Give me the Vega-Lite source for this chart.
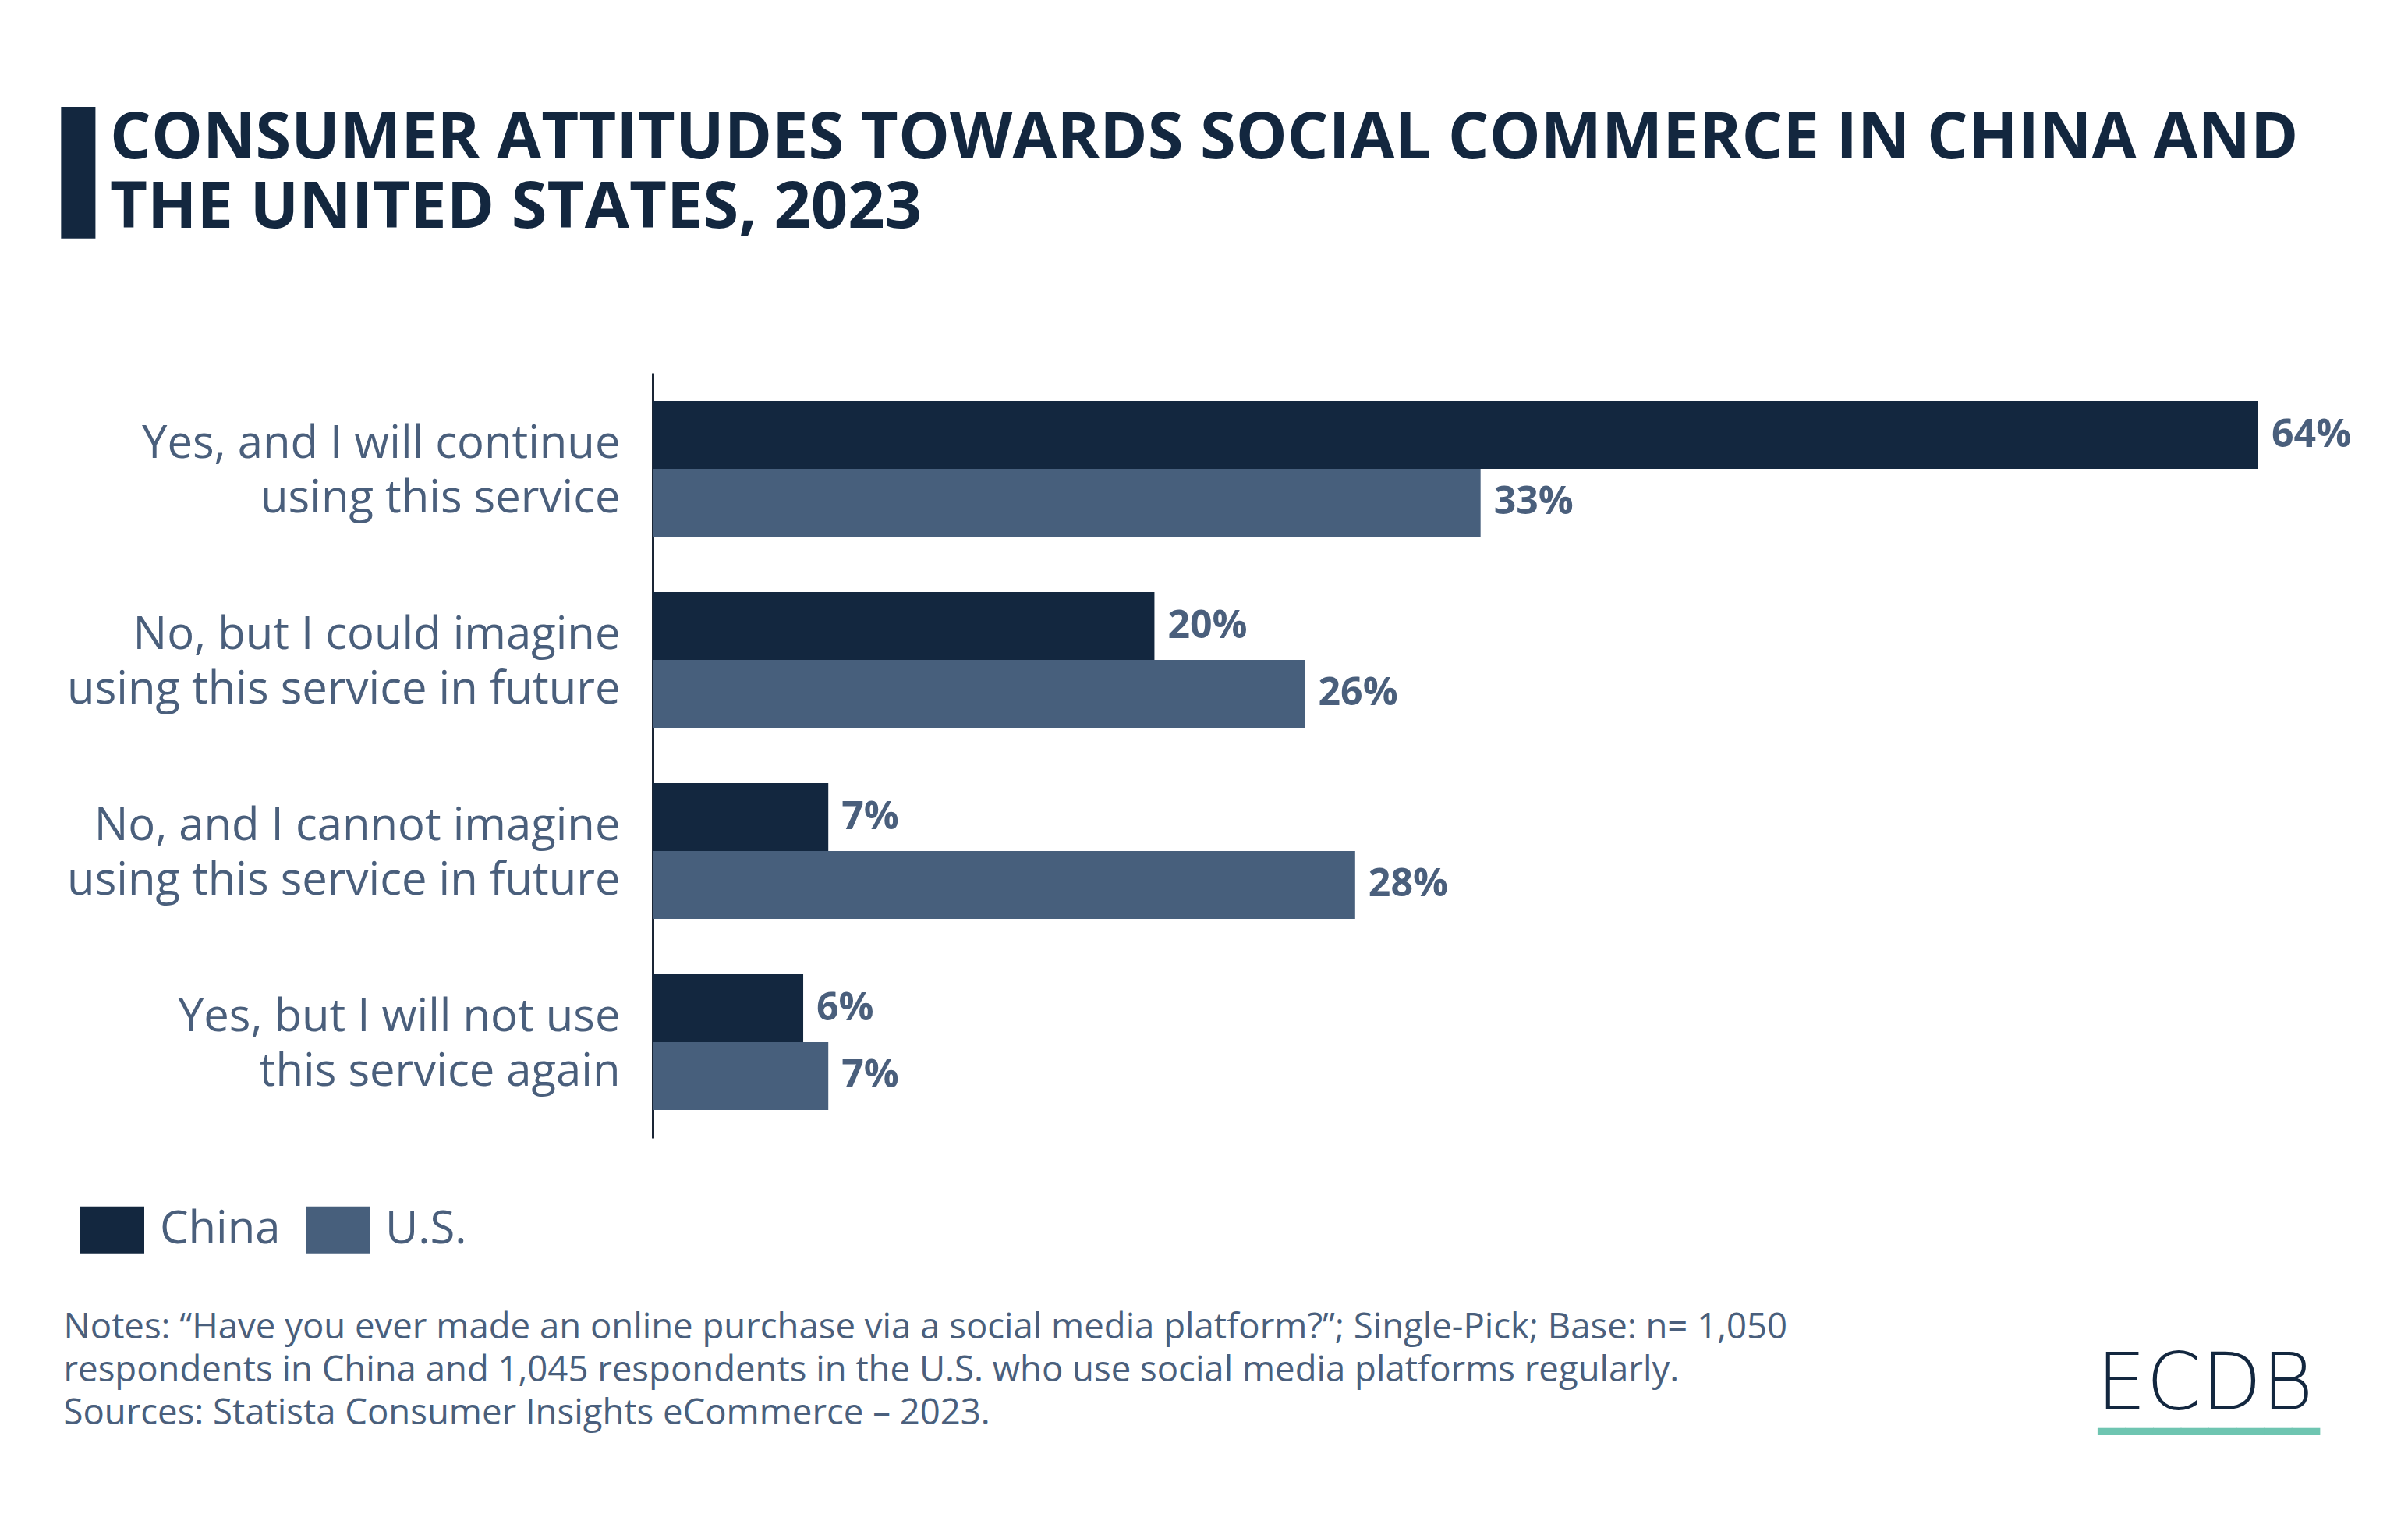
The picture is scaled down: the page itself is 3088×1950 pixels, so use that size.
{
  "$schema": "https://vega.github.io/schema/vega-lite/v6.json",
  "width": 2059,
  "height": 981,
  "autosize": {"type": "none"},
  "padding": {"left": 837, "top": 478, "right": 192, "bottom": 491},
  "background": "white",
  "config": {"view": {"stroke": null}, "font": "Open Sans"},
  "title": {
    "text": ["CONSUMER ATTITUDES TOWARDS SOCIAL COMMERCE IN CHINA AND", "THE UNITED STATES, 2023"],
    "anchor": "start",
    "frame": "group",
    "font": "Open Sans",
    "fontSize": 83,
    "fontWeight": "bold",
    "color": "#13273f",
    "lineHeight": 89,
    "dx": -696,
    "dy": 154,
    "offset": 0
  },
  "data": {
    "values": [
      {"answer": "Yes, and I will continue |using this service", "country": "China", "value": 64},
      {"answer": "Yes, and I will continue |using this service", "country": "U.S.", "value": 33},
      {"answer": "No, but I could imagine |using this service in future", "country": "China", "value": 20},
      {"answer": "No, but I could imagine |using this service in future", "country": "U.S.", "value": 26},
      {"answer": "No, and I cannot imagine |using this service in future", "country": "China", "value": 7},
      {"answer": "No, and I cannot imagine |using this service in future", "country": "U.S.", "value": 28},
      {"answer": "Yes, but I will not use |this service again", "country": "China", "value": 6},
      {"answer": "Yes, but I will not use |this service again", "country": "U.S.", "value": 7}
    ]
  },
  "transform": [{"calculate": "datum.value + '%'", "as": "label"}],
  "layer": [
    {
      "mark": {"type": "bar"},
      "encoding": {
        "y": {
          "field": "answer", "type": "nominal", "sort": null,
          "scale": {"paddingInner": 0.29, "paddingOuter": 0.147},
          "axis": {
            "orient": "left",
            "title": "▌",
            "titleFont": "DejaVu Sans Mono",
            "titleFontSize": 142,
            "titleFontWeight": "normal",
            "titleColor": "#13273f",
            "titleAngle": 0,
            "titleAlign": "left",
            "titleBaseline": "alphabetic",
            "titleX": -758,
            "titleY": -209,
            "labelExpr": "split(datum.label, '|')",
            "labelFont": "Open Sans",
            "labelFontSize": 58,
            "labelColor": "#4a5f7c",
            "labelLineHeight": 70,
            "labelPadding": 42,
            "labelOffset": -31,
            "labelLimit": 1000,
            "labelAlign": "right",
            "labelBaseline": "middle",
            "ticks": false,
            "grid": false,
            "domainColor": "#1a2535",
            "domainWidth": 3
          }
        },
        "yOffset": {"field": "country", "type": "nominal", "sort": ["China", "U.S."]},
        "x": {
          "field": "value", "type": "quantitative",
          "scale": {"domain": [0, 64], "nice": false},
          "axis": {
            "orient": "bottom",
            "domain": false, "ticks": false, "labels": false, "grid": false,
            "title": ["Notes: “Have you ever made an online purchase via a social media platform?”; Single-Pick; Base: n= 1,050", "respondents in China and 1,045 respondents in the U.S. who use social media platforms regularly.", "Sources: Statista Consumer Insights eCommerce – 2023."],
            "titleFont": "Open Sans",
            "titleFontSize": 45.5,
            "titleFontWeight": "normal",
            "titleColor": "#4a5f7c",
            "titleLineHeight": 55,
            "titleAlign": "left",
            "titleAnchor": "start",
            "titleBaseline": "alphabetic",
            "titleX": -756,
            "titleY": 256
          }
        },
        "color": {
          "field": "country", "type": "nominal",
          "scale": {"domain": ["China", "U.S."], "range": ["#13273f", "#475f7c"]},
          "legend": {
            "orient": "none",
            "legendX": -734,
            "legendY": 1058,
            "direction": "horizontal",
            "title": null,
            "symbolType": "M-1,-0.744L1,-0.744L1,0.744L-1,0.744Z",
            "symbolSize": 6724,
            "symbolStrokeWidth": 0,
            "symbolOpacity": 1,
            "labelFont": "Open Sans",
            "labelFontSize": 58,
            "labelColor": "#4a5f7c",
            "labelOffset": 20,
            "columnPadding": 32,
            "padding": 0,
            "labelLimit": 500
          }
        }
      }
    },
    {
      "mark": {"type": "text", "align": "left", "baseline": "middle", "dx": 17, "font": "Open Sans", "fontWeight": "bold", "fontSize": 50, "color": "#4a5f7c"},
      "encoding": {
        "y": {
          "field": "answer", "type": "nominal", "sort": null,
          "axis": {
            "orient": "right",
            "domain": false, "ticks": false, "labels": false, "grid": false,
            "title": "▁▁▁▁▁▁▁▁",
            "titleFont": "DejaVu Sans Mono",
            "titleFontSize": 59,
            "titleFontWeight": "normal",
            "titleColor": "#6fc5b1",
            "titleAngle": 0,
            "titleAlign": "left",
            "titleBaseline": "alphabetic",
            "titleX": -206,
            "titleY": 1346
          }
        },
        "yOffset": {"field": "country", "type": "nominal", "sort": ["China", "U.S."]},
        "x": {
          "field": "value", "type": "quantitative",
          "axis": {
            "orient": "top",
            "domain": false, "ticks": false, "labels": false, "grid": false,
            "title": "ECDB",
            "titleFont": "DejaVu Sans",
            "titleFontSize": 101,
            "titleFontWeight": 200,
            "titleColor": "#13273f",
            "titleAlign": "left",
            "titleAnchor": "start",
            "titleBaseline": "alphabetic",
            "titleX": 1851,
            "titleY": 1328
          }
        },
        "text": {"field": "label", "type": "nominal"}
      }
    }
  ],
  "resolve": {"axis": {"x": "independent", "y": "independent"}}
}
